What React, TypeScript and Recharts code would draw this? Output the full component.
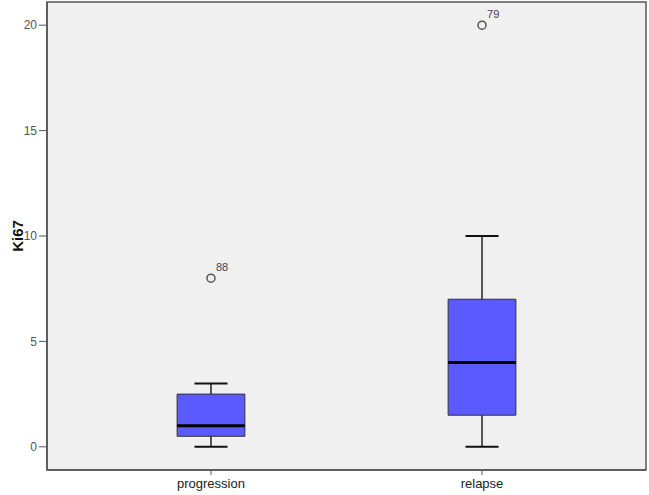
import React from 'react';
import {
  ComposedChart, XAxis, YAxis, Scatter, ReferenceArea, ReferenceLine, LabelList,
} from 'recharts';

const categories = ['progression', 'relapse'];
const whiskerLow = [0, 0];
const q1 = [0.5, 1.5];
const median = [1, 4];
const q3 = [2.5, 7];
const whiskerHigh = [3, 10];
const outliers = [
  { cat: 1, value: 8, id: '88' },
  { cat: 2, value: 20, id: '79' },
];
const yTicks = [0, 5, 10, 15, 20];
const xDomain = [0.395, 2.605];
const yDomain = [-1.1, 21.1];

const BOX_HALF = 0.125;
const CAP_HALF = 0.061;
const FONT = '"Liberation Sans", Arial, sans-serif';

const OutlierLabel = (props: any) => {
  const { x, y, width, value } = props;
  const cx = x + width / 2;
  return (
    <text x={cx + 5} y={y - 3} fontSize={11} fill="#444" fontFamily={FONT}>
      {value}
    </text>
  );
};

export default function App() {
  const boxes = categories.map((_, i) => i + 1);
  return (
    <div style={{ position: 'absolute', left: 0, top: 0, background: '#fff' }}>
      <ComposedChart
        width={649}
        height={495}
        margin={{ top: 2, right: 3, bottom: 0, left: 0 }}
        style={{ fontFamily: FONT }}
      >
        <XAxis
          type="number"
          dataKey="cat"
          domain={xDomain}
          ticks={[1, 2]}
          tickFormatter={(v: number) => categories[v - 1]}
          allowDataOverflow
          height={25}
          tickSize={5}
          tickMargin={4}
          tick={{ fontSize: 13, fill: '#222' }}
          stroke="#555"
          axisLine={{ stroke: '#555', strokeWidth: 1.5 }}
        />
        <YAxis
          type="number"
          dataKey="value"
          domain={yDomain}
          ticks={yTicks}
          allowDataOverflow
          width={47}
          tickSize={8}
          tick={{ fontSize: 12, fill: '#555' }}
          stroke="#555"
          axisLine={{ stroke: '#555', strokeWidth: 1.5 }}
          label={{ value: 'Ki67', angle: -90, position: 'insideLeft', offset: 18, style: { fontSize: 15, fontWeight: 'bold', fill: '#111', textAnchor: 'middle' } }}
        />
        <ReferenceArea x1={xDomain[0]} x2={xDomain[1]} y1={yDomain[0]} y2={yDomain[1]} fill="#f0f0f0" fillOpacity={1} stroke="#555" strokeWidth={1.5} ifOverflow="visible" />
        {boxes.map((c, i) => (
          <ReferenceLine key={'wl' + i} segment={[{ x: c, y: whiskerLow[i] }, { x: c, y: q1[i] }]} stroke="#222" strokeWidth={1.5} />
        ))}
        {boxes.map((c, i) => (
          <ReferenceLine key={'wh' + i} segment={[{ x: c, y: q3[i] }, { x: c, y: whiskerHigh[i] }]} stroke="#222" strokeWidth={1.5} />
        ))}
        {boxes.map((c, i) => (
          <ReferenceLine key={'cl' + i} segment={[{ x: c - CAP_HALF, y: whiskerLow[i] }, { x: c + CAP_HALF, y: whiskerLow[i] }]} stroke="#111" strokeWidth={2} />
        ))}
        {boxes.map((c, i) => (
          <ReferenceLine key={'ch' + i} segment={[{ x: c - CAP_HALF, y: whiskerHigh[i] }, { x: c + CAP_HALF, y: whiskerHigh[i] }]} stroke="#111" strokeWidth={2} />
        ))}
        {boxes.map((c, i) => (
          <ReferenceArea key={'b' + i} x1={c - BOX_HALF} x2={c + BOX_HALF} y1={q1[i]} y2={q3[i]} fill="#5a5aff" fillOpacity={1} stroke="#333" strokeWidth={1} />
        ))}
        {boxes.map((c, i) => (
          <ReferenceLine key={'m' + i} segment={[{ x: c - BOX_HALF, y: median[i] }, { x: c + BOX_HALF, y: median[i] }]} stroke="#000" strokeWidth={3} />
        ))}
        <Scatter
          data={outliers}
          dataKey="value"
          isAnimationActive={false}
          shape={(p: any) => <circle cx={p.cx} cy={p.cy} r={4} fill="none" stroke="#555" strokeWidth={1.5} />}
        >
          <LabelList dataKey="id" content={OutlierLabel} />
        </Scatter>
      </ComposedChart>
    </div>
  );
}
